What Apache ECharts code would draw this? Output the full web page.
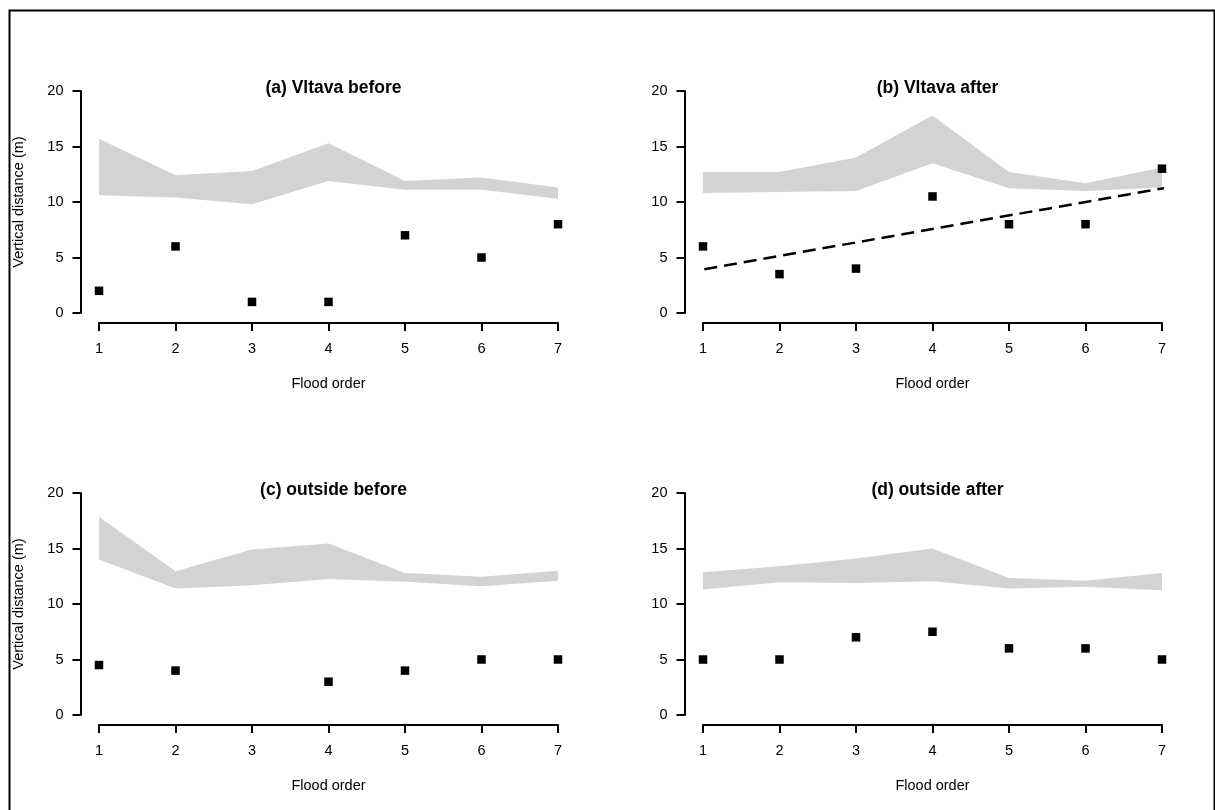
<!DOCTYPE html>
<html>
<head>
<meta charset="utf-8">
<script src="https://cdn.jsdelivr.net/npm/echarts@6/dist/echarts.min.js"></script>
<style>html,body{margin:0;padding:0;background:#fff}#c{width:1215px;height:810px}</style>
</head>
<body>
<div id="c"></div>
<script>
// ---- data ----
var floodOrder = [1, 2, 3, 4, 5, 6, 7];
var titles = ['(a) Vltava before', '(b) Vltava after', '(c) outside before', '(d) outside after'];
var yTicks = [0, 5, 10, 15, 20];

var aPoints = [2, 6, 1, 1, 7, 5, 8];
var aUpper  = [15.7, 12.4, 12.8, 15.3, 11.9, 12.2, 11.3];
var aLower  = [10.6, 10.4, 9.8, 11.9, 11.1, 11.1, 10.3];

var bPoints = [6, 3.5, 4, 10.5, 8, 8, 13];
var bUpper  = [12.7, 12.7, 14.0, 17.8, 12.7, 11.7, 13.1];
var bLower  = [10.8, 10.9, 11.0, 13.5, 11.25, 11.0, 11.3];

var cPoints = [4.5, 4, null, 3, 4, 5, 5];
var cUpper  = [17.85, 12.95, 14.9, 15.45, 12.8, 12.45, 13.0];
var cLower  = [14.0, 11.4, 11.7, 12.25, 12.0, 11.6, 12.1];

var dPoints = [5, 5, 7, 7.5, 6, 6, 5];
var dUpper  = [12.85, 13.4, 14.1, 15.0, 12.35, 12.1, 12.8];
var dLower  = [11.3, 11.95, 11.9, 12.05, 11.4, 11.55, 11.25];

var panels = [
  {pts: aPoints, up: aUpper, lo: aLower, fit: false},
  {pts: bPoints, up: bUpper, lo: bLower, fit: true},
  {pts: cPoints, up: cUpper, lo: cLower, fit: false},
  {pts: dPoints, up: dUpper, lo: dLower, fit: false}
];

// ---- layout ----
var FONT = 'Liberation Sans, Arial, Helvetica, sans-serif';
var gridLefts = [99, 703, 99, 703];
var gridTops = [91, 91, 493, 493];
var gridW = 459, gridH = 222;

function linFit(xs, ys) {
  var n = 0, sx = 0, sy = 0;
  for (var i = 0; i < xs.length; i++) if (ys[i] != null) { n++; sx += xs[i]; sy += ys[i]; }
  var mx = sx / n, my = sy / n, sxy = 0, sxx = 0;
  for (var j = 0; j < xs.length; j++) if (ys[j] != null) { sxy += (xs[j]-mx)*(ys[j]-my); sxx += (xs[j]-mx)*(xs[j]-mx); }
  var b = sxy / sxx;
  return {a: my - b*mx, b: b};
}

var grid = [], xAxis = [], yAxis = [], series = [], title = [];
panels.forEach(function (p, k) {
  grid.push({left: gridLefts[k], top: gridTops[k], width: gridW, height: gridH, containLabel: false});
  title.push({
    text: titles[k], left: gridLefts[k] + gridW / 2, top: gridTops[k] - 17, textAlign: 'center',
    textStyle: {fontFamily: FONT, fontSize: 17.5, fontWeight: 'bold', color: '#000'}
  });
  xAxis.push({
    type: 'value', gridIndex: k, min: floodOrder[0], max: floodOrder[floodOrder.length-1], interval: 1,
    offset: 10, name: 'Flood order', nameLocation: 'middle', nameGap: 53,
    nameTextStyle: {fontFamily: FONT, fontSize: 14.5, color: '#000'},
    axisLine: {show: true, onZero: false, lineStyle: {color: '#000', width: 2}},
    axisTick: {show: true, length: 8, lineStyle: {color: '#000', width: 2}},
    axisLabel: {fontFamily: FONT, fontSize: 14.5, color: '#000', margin: 18},
    splitLine: {show: false}
  });
  yAxis.push({
    type: 'value', gridIndex: k, min: yTicks[0], max: yTicks[yTicks.length-1], interval: yTicks[1]-yTicks[0],
    offset: 18.5,
    name: (k % 2 === 0) ? 'Vertical distance (m)' : '', nameLocation: 'middle', nameGap: 54,
    nameTextStyle: {fontFamily: FONT, fontSize: 14.5, color: '#000'},
    axisLine: {show: true, onZero: false, lineStyle: {color: '#000', width: 2}},
    axisTick: {show: true, length: 8, lineStyle: {color: '#000', width: 2}},
    axisLabel: {fontFamily: FONT, fontSize: 14.5, color: '#000', margin: 17},
    splitLine: {show: false}
  });
  var bandData = floodOrder.map(function (x, i) { return [x, p.lo[i], p.up[i]]; });
  series.push({
    type: 'custom', xAxisIndex: k, yAxisIndex: k, data: bandData, clip: false, silent: true, z: 1,
    renderItem: (function (bd) {
      return function (params, api) {
        if (params.dataIndex !== 0) return null;
        var pts = [];
        bd.forEach(function (d) { pts.push(api.coord([d[0], d[2]])); });
        for (var i = bd.length - 1; i >= 0; i--) pts.push(api.coord([bd[i][0], bd[i][1]]));
        return {type: 'polygon', shape: {points: pts}, style: {fill: '#d3d3d3', stroke: null}};
      };
    })(bandData)
  });
  if (p.fit) {
    var f = linFit(floodOrder, p.pts);
    var span = floodOrder[floodOrder.length-1] - floodOrder[0];
    var x0 = floodOrder[0] - 0.04 * span, x1 = floodOrder[floodOrder.length-1] + 0.04 * span;
    series.push({
      type: 'line', xAxisIndex: k, yAxisIndex: k, clip: false, symbol: 'none', silent: true, z: 2,
      data: [[x0, f.a + f.b * x0], [x1, f.a + f.b * x1]],
      lineStyle: {color: '#000', width: 2.5, type: [13, 7]}
    });
  }
  series.push({
    type: 'scatter', xAxisIndex: k, yAxisIndex: k, symbol: 'rect', symbolSize: 8.5, z: 3, clip: false,
    data: floodOrder.map(function (x, i) { return p.pts[i] == null ? null : [x, p.pts[i]]; }).filter(function (d) { return d; }),
    itemStyle: {color: '#000', opacity: 1}
  });
});

var chart = echarts.init(document.getElementById('c'), null, {renderer: 'canvas'});
chart.setOption({
  animation: false,
  backgroundColor: '#fff',
  title: title,
  grid: grid, xAxis: xAxis, yAxis: yAxis, series: series,
  graphic: [{type: 'rect', left: 7, top: 8, shape: {width: 1205, height: 806}, style: {fill: null, stroke: '#000', lineWidth: 2}, silent: true}]
});
</script>
</body>
</html>
